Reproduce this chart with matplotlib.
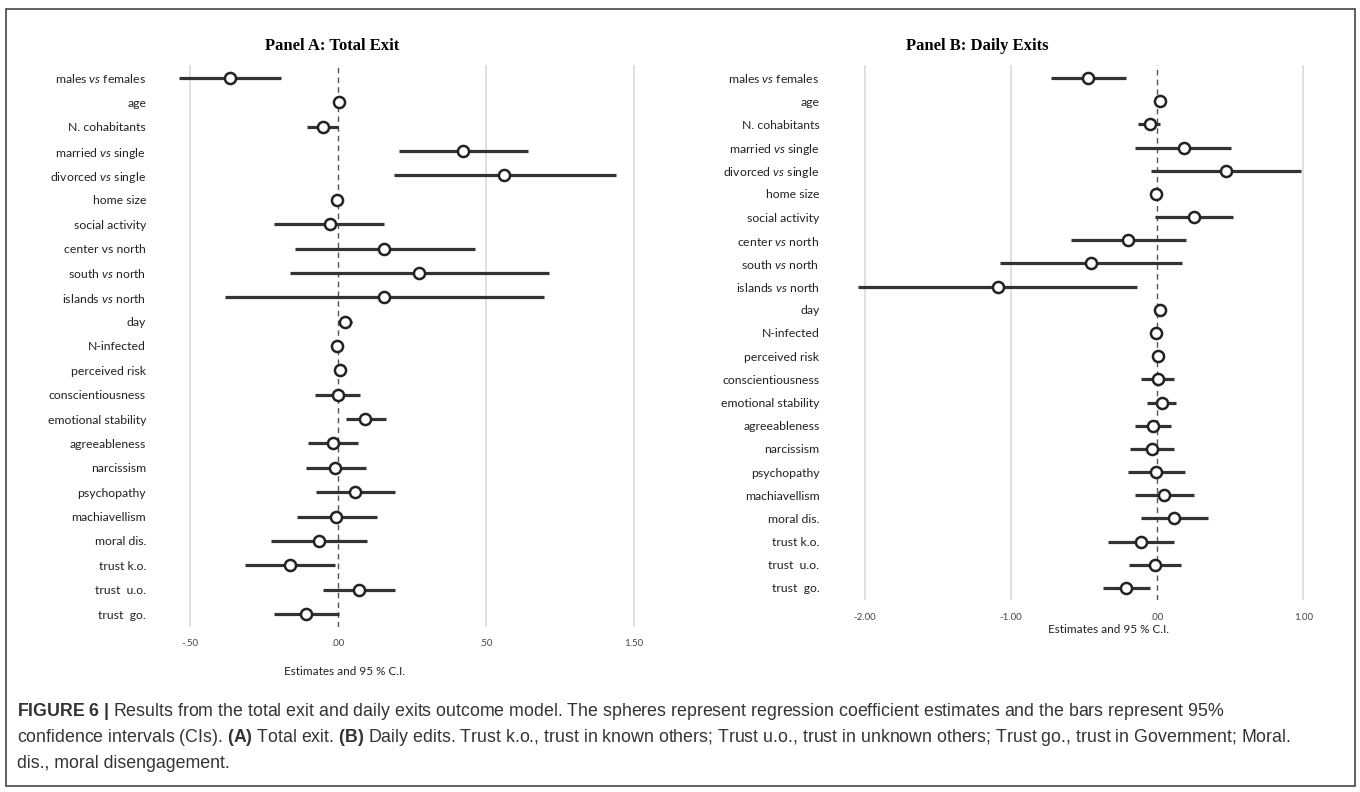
import matplotlib
matplotlib.use('Agg')
import matplotlib.pyplot as plt
from matplotlib import font_manager
from matplotlib.patches import Rectangle
import numpy as np

# Row labels (top to bottom)
labels_a = ["males $\\it{vs}$ females", "age", "N. cohabitants", "married $\\it{vs}$ single",
            "divorced $\\it{vs}$ single", "home size", "social activity", "center vs north",
            "south $\\it{vs}$ north", "islands $\\it{vs}$ north", "day", "N-infected", "perceived risk",
            "conscientiousness", "emotional stability", "agreeableness", "narcissism", "psychopathy",
            "machiavellism", "moral dis.", "trust k.o.", "trust  u.o.", "trust  go."]
labels_b = ["males $\\it{vs}$ females", "age", "N. cohabitants", "married $\\it{vs}$ single",
            "divorced $\\it{vs}$ single", "home size", "social activity", "center $\\it{vs}$ north",
            "south $\\it{vs}$ north", "islands $\\it{vs}$ north", "day", "N-infected", "perceived risk",
            "conscientiousness", "emotional stability", "agreeableness", "narcissism", "psychopathy",
            "machiavellism", "moral dis.", "trust k.o.", "trust  u.o.", "trust  go."]

# Panel A: Total Exit
est_a = [-0.365, 0.003, -0.051, 0.424, 0.562, -0.004, -0.028, 0.157, 0.275, 0.156, 0.024, -0.003,
         0.006, 0.0, 0.093, -0.017, -0.008, 0.059, -0.006, -0.064, -0.161, 0.071, -0.106]
lo_a = [-0.535, 0.003, -0.103, 0.208, 0.190, -0.004, -0.214, -0.146, -0.163, -0.380, 0.003, -0.003,
        0.006, -0.076, 0.028, -0.099, -0.109, -0.072, -0.139, -0.227, -0.313, -0.051, -0.215]
hi_a = [-0.191, 0.003, 0.0, 0.643, 0.938, -0.004, 0.157, 0.463, 0.714, 0.694, 0.047, -0.003,
        0.006, 0.076, 0.161, 0.068, 0.095, 0.194, 0.132, 0.099, -0.008, 0.194, 0.003]

# Panel B: Daily Exits
est_b = [-0.473, 0.017, -0.052, 0.181, 0.471, -0.006, 0.253, -0.198, -0.453, -1.090, 0.017, -0.006,
         0.006, 0.003, 0.032, -0.029, -0.032, -0.006, 0.049, 0.118, -0.109, -0.014, -0.212]
lo_b = [-0.726, 0.017, -0.129, -0.149, -0.040, -0.006, -0.017, -0.591, -1.073, -2.046, 0.017, -0.006,
        0.006, -0.109, -0.066, -0.152, -0.184, -0.201, -0.152, -0.109, -0.336, -0.195, -0.370]
hi_b = [-0.215, 0.017, 0.023, 0.508, 0.987, -0.006, 0.522, 0.198, 0.172, -0.135, 0.017, -0.006,
        0.006, 0.118, 0.129, 0.095, 0.118, 0.189, 0.250, 0.350, 0.118, 0.164, -0.052]

ticks_a = [-0.5, 0.0, 0.5, 1.0]
ticklabels_a = ["-.50", ".00", ".50", "1.50"]
ticks_b = [-2.0, -1.0, 0.0, 1.0]
ticklabels_b = ["-2.00", "-1.00", ".00", "1.00"]

caption_lines = [
    r"$\mathbf{FIGURE\ 6\ |}$ Results from the total exit and daily exits outcome model. The spheres represent regression coefficient estimates and the bars represent 95%",
    r"confidence intervals (CIs). $\mathbf{(A)}$ Total exit. $\mathbf{(B)}$ Daily edits. Trust k.o., trust in known others; Trust u.o., trust in unknown others; Trust go., trust in Government; Moral.",
    "dis., moral disengagement.",
]

names = {f.name for f in font_manager.fontManager.ttflist}
cap_font = 'Liberation Sans Narrow' if 'Liberation Sans Narrow' in names else 'Liberation Sans'
cap_size = 15 if cap_font == 'Liberation Sans Narrow' else 12.8

plt.rcParams['font.family'] = ['Lato', 'DejaVu Sans']
plt.rcParams['mathtext.fontset'] = 'custom'
plt.rcParams['mathtext.rm'] = 'Lato'
plt.rcParams['mathtext.it'] = 'Lato:italic'
plt.rcParams['mathtext.bf'] = cap_font + ':bold'

W, H = 1360, 792
fig = plt.figure(figsize=(W / 100, H / 100), dpi=100)


def px_axes(left, top, right, bottom):
    return fig.add_axes([left / W, 1 - bottom / H, (right - left) / W, (bottom - top) / H])


def forest(ax, labels, est, lo, hi, xlim, ticks, ticklabels, ylab_pad, pad_top, pad_bot):
    n = len(labels)
    y = np.arange(n)
    ax.set_xlim(xlim)
    ax.set_ylim(n - 1 + pad_bot, -pad_top)
    for t in ticks:
        if t == 0:
            ax.axvline(0, color='#555555', lw=1.0, ls=(0, (4, 3)), zorder=1)
        else:
            ax.axvline(t, color='#dddddd', lw=1.3, zorder=0)
    ax.hlines(y, lo, hi, color='#333333', lw=2.3, zorder=2)
    ax.plot(est, y, 'o', ms=8, mfc='white', mec='#222222', mew=1.8, zorder=3)
    ax.set_yticks(y)
    ax.set_yticklabels(labels, fontsize=8.8, color='#222222')
    ax.set_xticks(ticks)
    ax.set_xticklabels(ticklabels, fontsize=7, color='#444444')
    ax.tick_params(axis='both', length=0)
    ax.tick_params(axis='y', pad=ylab_pad)
    ax.tick_params(axis='x', pad=9)
    for s in ax.spines.values():
        s.set_visible(False)
    ax.set_facecolor('none')


ax_a = px_axes(160, 65, 652, 627)
forest(ax_a, labels_a, est_a, lo_a, hi_a, (-0.6, 1.06), ticks_a, ticklabels_a, 10, 0.53, 0.53)
ax_a.set_xlabel("Estimates and 95 % C.I.", fontsize=8.5, color='#222222')
ax_a.xaxis.set_label_coords(0.376, -0.069)

ax_b = px_axes(850, 65, 1318, 600)
forest(ax_b, labels_b, est_b, lo_b, hi_b, (-2.1, 1.1), ticks_b, ticklabels_b, 22, 0.56, 0.52)
ax_b.set_xlabel("Estimates and 95 % C.I.", fontsize=8.5, color='#222222')
ax_b.xaxis.set_label_coords(0.553, -0.045)

# Panel titles
fig.text(332 / W, 1 - 46 / H, "Panel A: Total Exit", family='Liberation Serif', weight='bold',
         fontsize=12, ha='center', va='center')
fig.text(977 / W, 1 - 46 / H, "Panel B: Daily Exits", family='Liberation Serif', weight='bold',
         fontsize=12, ha='center', va='center')

# Caption
for i, line in enumerate(caption_lines):
    fig.text(17 / W, 1 - (712 + 26 * i) / H, line, family=cap_font, fontsize=cap_size,
             color='#333333', ha='left', va='center')

# Outer frame
fig.patches.append(Rectangle((6 / W, 1 - 786 / H), 1349 / W, 777 / H, transform=fig.transFigure,
                             fill=False, edgecolor='#444444', lw=1.2))

fig.savefig('out.png', dpi=100, facecolor='white')
